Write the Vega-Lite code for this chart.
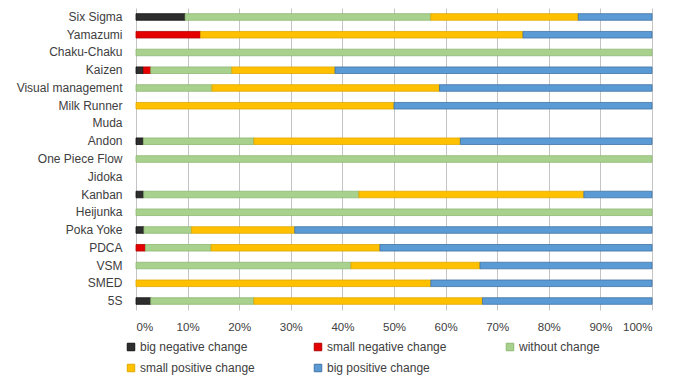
{
  "$schema": "https://vega.github.io/schema/vega-lite/v6.json",
  "width": 516,
  "height": 302,
  "autosize": "none",
  "padding": {"left": 136, "top": 8, "right": 28, "bottom": 66},
  "background": "white",
  "config": {
    "view": {"stroke": null},
    "font": "Liberation Sans",
    "axis": {"labelColor": "#404040", "labelFont": "Liberation Sans"},
    "legend": {"labelColor": "#404040", "labelFont": "Liberation Sans"}
  },
  "data": {
    "values": [
      {"technique": "Six Sigma", "change": "big negative change", "pct": 9.52},
      {"technique": "Six Sigma", "change": "without change", "pct": 47.62},
      {"technique": "Six Sigma", "change": "small positive change", "pct": 28.57},
      {"technique": "Six Sigma", "change": "big positive change", "pct": 14.29},
      {"technique": "Yamazumi", "change": "small negative change", "pct": 12.5},
      {"technique": "Yamazumi", "change": "small positive change", "pct": 62.5},
      {"technique": "Yamazumi", "change": "big positive change", "pct": 25},
      {"technique": "Chaku-Chaku", "change": "without change", "pct": 100},
      {"technique": "Kaizen", "change": "big negative change", "pct": 1.43},
      {"technique": "Kaizen", "change": "small negative change", "pct": 1.43},
      {"technique": "Kaizen", "change": "without change", "pct": 15.71},
      {"technique": "Kaizen", "change": "small positive change", "pct": 20},
      {"technique": "Kaizen", "change": "big positive change", "pct": 61.43},
      {"technique": "Visual management", "change": "without change", "pct": 14.71},
      {"technique": "Visual management", "change": "small positive change", "pct": 44.12},
      {"technique": "Visual management", "change": "big positive change", "pct": 41.18},
      {"technique": "Milk Runner", "change": "small positive change", "pct": 50},
      {"technique": "Milk Runner", "change": "big positive change", "pct": 50},
      {"technique": "Andon", "change": "big negative change", "pct": 1.43},
      {"technique": "Andon", "change": "without change", "pct": 21.43},
      {"technique": "Andon", "change": "small positive change", "pct": 40},
      {"technique": "Andon", "change": "big positive change", "pct": 37.14},
      {"technique": "One Piece Flow", "change": "without change", "pct": 100},
      {"technique": "Kanban", "change": "big negative change", "pct": 1.5},
      {"technique": "Kanban", "change": "without change", "pct": 41.7},
      {"technique": "Kanban", "change": "small positive change", "pct": 43.6},
      {"technique": "Kanban", "change": "big positive change", "pct": 13.2},
      {"technique": "Heijunka", "change": "without change", "pct": 100},
      {"technique": "Poka Yoke", "change": "big negative change", "pct": 1.54},
      {"technique": "Poka Yoke", "change": "without change", "pct": 9.23},
      {"technique": "Poka Yoke", "change": "small positive change", "pct": 20},
      {"technique": "Poka Yoke", "change": "big positive change", "pct": 69.23},
      {"technique": "PDCA", "change": "small negative change", "pct": 1.82},
      {"technique": "PDCA", "change": "without change", "pct": 12.73},
      {"technique": "PDCA", "change": "small positive change", "pct": 32.73},
      {"technique": "PDCA", "change": "big positive change", "pct": 52.73},
      {"technique": "VSM", "change": "without change", "pct": 41.67},
      {"technique": "VSM", "change": "small positive change", "pct": 25},
      {"technique": "VSM", "change": "big positive change", "pct": 33.33},
      {"technique": "SMED", "change": "small positive change", "pct": 57.14},
      {"technique": "SMED", "change": "big positive change", "pct": 42.86},
      {"technique": "5S", "change": "big negative change", "pct": 2.86},
      {"technique": "5S", "change": "without change", "pct": 20},
      {"technique": "5S", "change": "small positive change", "pct": 44.29},
      {"technique": "5S", "change": "big positive change", "pct": 32.86}
    ]
  },
  "transform": [
    {
      "calculate": "indexof(['big negative change', 'small negative change', 'without change', 'small positive change', 'big positive change'], datum.change)",
      "as": "stackOrder"
    }
  ],
  "mark": {"type": "bar", "strokeWidth": 0.8},
  "encoding": {
    "y": {
      "field": "technique",
      "type": "nominal",
      "sort": ["Six Sigma", "Yamazumi", "Chaku-Chaku", "Kaizen", "Visual management", "Milk Runner", "Muda", "Andon", "One Piece Flow", "Jidoka", "Kanban", "Heijunka", "Poka Yoke", "PDCA", "VSM", "SMED", "5S"],
      "scale": {
        "domain": ["Six Sigma", "Yamazumi", "Chaku-Chaku", "Kaizen", "Visual management", "Milk Runner", "Muda", "Andon", "One Piece Flow", "Jidoka", "Kanban", "Heijunka", "Poka Yoke", "PDCA", "VSM", "SMED", "5S"],
        "paddingInner": 0.63,
        "paddingOuter": 0.32
      },
      "axis": {
        "title": null,
        "domain": false,
        "ticks": false,
        "labelPadding": 14,
        "labelFontSize": 12
      }
    },
    "x": {
      "field": "pct",
      "type": "quantitative",
      "aggregate": "sum",
      "stack": true,
      "scale": {"domain": [0, 100], "nice": false},
      "axis": {
        "title": null,
        "values": [0, 10, 20, 30, 40, 50, 60, 70, 80, 90, 100],
        "labelExpr": "datum.value + '%'",
        "domain": false,
        "ticks": false,
        "grid": true,
        "gridColor": "#c4c4c4",
        "gridWidth": 1,
        "labelPadding": 11,
        "labelFontSize": 11.5
      }
    },
    "order": {"field": "stackOrder", "type": "quantitative", "aggregate": "min", "sort": "ascending"},
    "color": {
      "field": "change",
      "type": "nominal",
      "sort": ["big negative change", "small negative change", "without change", "small positive change", "big positive change"],
      "scale": {
        "domain": ["big negative change", "small negative change", "without change", "small positive change", "big positive change"],
        "range": ["#2e2e2e", "#e50000", "#a9d18e", "#ffc000", "#5b9bd5"]
      },
      "legend": {
        "title": null,
        "orient": "none",
        "legendX": -11,
        "legendY": 333,
        "direction": "horizontal",
        "columns": 3,
        "columnPadding": 57,
        "rowPadding": 9,
        "symbolType": "square",
        "symbolSize": 56,
        "symbolStrokeWidth": 1,
        "labelOffset": 3,
        "labelFontSize": 12,
        "labelLimit": 200
      }
    },
    "stroke": {
      "field": "change",
      "type": "nominal",
      "scale": {
        "domain": ["big negative change", "small negative change", "without change", "small positive change", "big positive change"],
        "range": ["#111111", "#b00000", "#8db872", "#e0a800", "#3f72a3"]
      },
      "legend": null
    }
  }
}
